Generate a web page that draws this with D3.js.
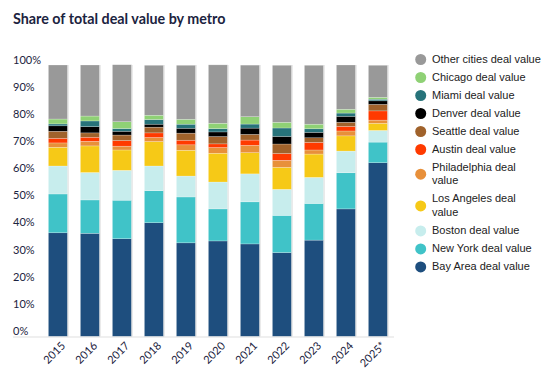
<!DOCTYPE html>
<html><head><meta charset="utf-8">
<script src="https://cdn.jsdelivr.net/npm/d3@7"></script>
<style>
html,body{margin:0;padding:0;background:#fff;}
svg{display:block;}
</style></head>
<body>
<svg id="chart" width="554" height="391"></svg>
<script>
const title = "Share of total deal value by metro";
const years = ["2015","2016","2017","2018","2019","2020","2021","2022","2023","2024","2025*"];
// stacking order: bottom to top
const seriesNames = ["Bay Area deal value","New York deal value","Boston deal value","Los Angeles deal value","Philadelphia deal value","Austin deal value","Seattle deal value","Denver deal value","Miami deal value","Chicago deal value","Other cities deal value"];
const seriesColors = ["#1e4e7e","#40c3c8","#c7eded","#f6c917","#e8903a","#ff3a00","#a0622b","#000000","#27737a","#8fd175","#999999"];
const bayArea      = [38.2, 38.0, 36.0, 41.9, 34.5, 35.2, 34.1, 30.9, 35.5, 47.0, 64.0];
const newYork      = [14.3, 12.3, 14.2, 11.8, 16.9, 11.8, 15.5, 13.7, 13.5, 13.3, 7.6];
const boston       = [10.3, 10.1, 11.0, 9.1, 7.7, 9.9, 10.3, 9.6, 9.6, 8.0, 4.3];
const losAngeles   = [6.9, 9.8, 7.5, 9.0, 9.5, 10.6, 7.8, 8.1, 8.6, 5.6, 2.6];
const philadelphia = [1.6, 1.7, 1.4, 1.5, 2.0, 2.1, 2.7, 2.6, 1.5, 1.8, 1.2];
const austin       = [1.7, 1.5, 2.1, 1.7, 1.7, 1.35, 1.95, 2.5, 2.8, 1.7, 3.4];
const seattle      = [2.6, 1.6, 2.0, 2.1, 2.6, 2.7, 2.1, 3.5, 1.7, 1.5, 2.4];
const denver       = [2.0, 2.3, 1.4, 1.1, 1.8, 1.7, 2.3, 2.8, 2.0, 2.2, 1.3];
const miami        = [0.7, 2.1, 1.0, 1.7, 1.5, 1.2, 1.5, 3.1, 1.3, 1.2, 0.6];
const chicago      = [1.8, 1.8, 2.5, 1.6, 1.8, 2.0, 2.7, 2.1, 1.7, 1.4, 0.7];
const otherCities  = [19.9, 18.8, 21.0, 18.4, 19.9, 21.5, 19.0, 21.0, 21.7, 16.3, 11.8];
const yTicks = [0,10,20,30,40,50,60,70,80,90,100];

const seriesValues = [bayArea,newYork,boston,losAngeles,philadelphia,austin,seattle,denver,miami,chicago,otherCities];
const table = years.map((y,i)=>{
  const row = {year:y};
  seriesNames.forEach((s,j)=>row[s]=seriesValues[j][i]);
  return row;
});

const svg = d3.select("#chart");
const textColor = "#1b2340";

svg.append("text").attr("x",13).attr("y",24)
  .attr("font-family","Lato, 'Open Sans', sans-serif").attr("font-weight",700)
  .attr("font-size",14.3).attr("fill",textColor).text(title);

const x = d3.scaleBand().domain(years).range([42,394]).paddingInner(0.4).paddingOuter(0.2);
const y = d3.scaleLinear().domain([0,100]).range([336.5,65]);

// y labels (sitting above value lines)
svg.append("g").selectAll("text").data(yTicks).join("text")
  .attr("x",13).attr("y",d=>y(d)-1.5)
  .attr("font-family","Lato, sans-serif").attr("font-size",11)
  .attr("fill",textColor).text(d=>d+"%");

const stack = d3.stack().keys(seriesNames);
const stacked = stack(table);

const g = svg.append("g");
stacked.forEach((layer,j)=>{
  g.append("g").attr("fill",seriesColors[j])
    .selectAll("rect").data(layer).join("rect")
    .attr("x",d=>x(d.data.year))
    .attr("width",x.bandwidth())
    .attr("y",d=>y(d[1]))
    .attr("height",d=>y(d[0])-y(d[1]))
    .attr("stroke","#ffffff").attr("stroke-width",0.5).attr("stroke-opacity",0.45);
});
// light right edge of bars
g.append("g").selectAll("line").data(years).join("line")
  .attr("x1",d=>x(d)+x.bandwidth()+0.5).attr("x2",d=>x(d)+x.bandwidth()+0.5)
  .attr("y1",y(100)).attr("y2",y(0))
  .attr("stroke","#dcdcdc").attr("stroke-width",1);

// x axis
const xAxis = d3.axisBottom(x).tickSize(0).tickPadding(0);
const ax = svg.append("g").attr("transform",`translate(0,${y(0)})`).call(xAxis);
ax.select(".domain").attr("d",`M13,0.5H394`).attr("stroke","#e0e0e0").attr("stroke-width",1.2);
ax.selectAll(".tick text")
  .attr("font-family","Lato, sans-serif").attr("font-size",11).attr("fill",textColor)
  .attr("text-anchor","end").attr("dy",null).attr("y",null)
  .attr("transform",`translate(6,8) rotate(-45)`)
  .attr("dominant-baseline","middle");

// legend (top to bottom is reversed stack)
const legendOrder = seriesNames.map((n,i)=>({name:n,color:seriesColors[i]})).reverse();
const lg = svg.append("g");
let cy = 59.5;
const lineH = 13.4, maxW = 109;
legendOrder.forEach(item=>{
  const t = lg.append("text").attr("x",432).attr("y",cy)
    .attr("font-family","'Liberation Sans', Arial, sans-serif").attr("font-size",11)
    .attr("fill","#222").attr("dominant-baseline","middle");
  const words = item.name.split(" ");
  let lines = [], cur = [];
  words.forEach(w=>{
    const test = cur.concat([w]).join(" ");
    t.text(test);
    if (t.node().getComputedTextLength() > maxW && cur.length){ lines.push(cur.join(" ")); cur=[w]; }
    else cur.push(w);
  });
  lines.push(cur.join(" "));
  t.text(null);
  lines.forEach((l,k)=>t.append("tspan").attr("x",432).attr("y",cy+k*lineH).text(l));
  const mid = cy + (lines.length-1)*lineH/2;
  lg.append("circle").attr("cx",420.7).attr("cy",mid).attr("r",5.5).attr("fill",item.color);
  cy += 18 + (lines.length-1)*(lineH+0.3);
});
</script>
</body></html>
